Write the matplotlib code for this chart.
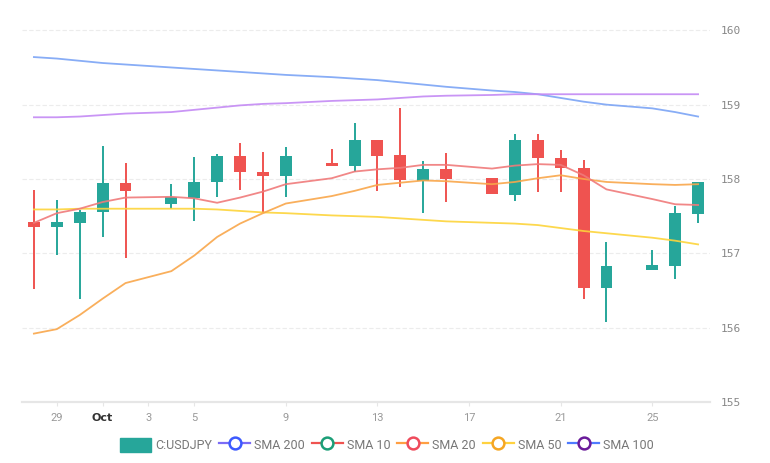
import matplotlib
matplotlib.use("Agg")
import matplotlib.pyplot as plt
import matplotlib.dates as mdates
from matplotlib.lines import Line2D
from matplotlib.patches import Patch
import pandas as pd
import numpy as np

# daily USDJPY candles (weekend gaps are left empty)
dates = ["2024-09-28", "2024-09-29", "2024-09-30", "2024-10-01", "2024-10-02",
         "2024-10-04", "2024-10-05", "2024-10-06", "2024-10-07", "2024-10-08",
         "2024-10-09", "2024-10-11", "2024-10-12", "2024-10-13", "2024-10-14",
         "2024-10-15", "2024-10-16", "2024-10-18", "2024-10-19", "2024-10-20",
         "2024-10-21", "2024-10-22", "2024-10-23", "2024-10-25", "2024-10-26",
         "2024-10-27"]
opens = [157.42, 157.35, 157.41, 157.55, 157.94, 157.67, 157.74, 157.96, 158.31, 158.09,
         158.04, 158.20, 158.17, 158.52, 158.32, 157.97, 158.13, 158.01, 157.78, 158.52,
         158.28, 158.15, 156.53, 156.77, 156.83, 157.53]
highs = [157.85, 157.72, 157.58, 158.45, 158.21, 157.93, 158.29, 158.33, 158.49, 158.36,
         158.43, 158.40, 158.75, 158.52, 158.95, 158.24, 158.35, 158.01, 158.60, 158.60,
         158.39, 158.25, 157.15, 157.04, 157.63, 157.96]
lows = [156.52, 156.98, 156.38, 157.22, 156.94, 157.59, 157.43, 157.76, 157.85, 157.54,
        157.76, 158.17, 158.09, 157.84, 157.89, 157.54, 157.69, 157.80, 157.70, 157.82,
        157.82, 156.38, 156.08, 156.77, 156.65, 157.41]
closes = [157.35, 157.42, 157.55, 157.94, 157.84, 157.76, 157.96, 158.31, 158.09, 158.04,
          158.31, 158.17, 158.52, 158.31, 157.98, 158.13, 158.00, 157.80, 158.52, 158.28,
          158.15, 156.53, 156.83, 156.84, 157.54, 157.96]

sma10 = [157.41, 157.54, 157.60, 157.69, 157.75, 157.76, 157.74, 157.68, 157.75, 157.83,
         157.93, 158.01, 158.10, 158.13, 158.15, 158.19, 158.19, 158.14, 158.18, 158.20,
         158.19, 158.05, 157.86, 157.73, 157.66, 157.65]
sma20 = [155.92, 155.98, 156.17, 156.39, 156.60, 156.76, 156.97, 157.22, 157.40, 157.54,
         157.67, 157.77, 157.84, 157.92, 157.95, 157.98, 157.97, 157.93, 157.96, 158.01,
         158.05, 158.00, 157.96, 157.93, 157.92, 157.93]
sma50 = [157.59, 157.59, 157.60, 157.60, 157.60, 157.60, 157.60, 157.59, 157.57, 157.55,
         157.54, 157.51, 157.50, 157.49, 157.47, 157.45, 157.43, 157.41, 157.40, 157.38,
         157.34, 157.30, 157.27, 157.21, 157.17, 157.12]
sma100 = [158.83, 158.83, 158.84, 158.86, 158.88, 158.90, 158.93, 158.96, 158.99, 159.01,
          159.02, 159.05, 159.06, 159.07, 159.09, 159.11, 159.12, 159.13, 159.14, 159.14,
          159.14, 159.14, 159.14, 159.14, 159.14, 159.14]
sma200 = [159.64, 159.62, 159.59, 159.56, 159.54, 159.50, 159.48, 159.46, 159.44, 159.42,
          159.40, 159.37, 159.35, 159.33, 159.30, 159.27, 159.24, 159.19, 159.17, 159.14,
          159.09, 159.04, 159.00, 158.95, 158.90, 158.84]

tick_dates = ["2024-09-29", "2024-10-01", "2024-10-03", "2024-10-05", "2024-10-09",
              "2024-10-13", "2024-10-17", "2024-10-21", "2024-10-25"]
tick_labels = ["29", "Oct", "3", "5", "9", "13", "17", "21", "25"]

UP = "#26a69a"
DOWN = "#ef5350"

x = mdates.date2num(pd.to_datetime(dates))
o = np.array(opens)
c = np.array(closes)

fig = plt.figure(figsize=(7.7, 4.63), dpi=100)
ax = fig.add_axes([22 / 770, 61 / 463, 688 / 770, 394 / 463])

colors = [UP if cc >= oo else DOWN for oo, cc in zip(o, c)]
ax.vlines(x, lows, highs, colors=colors, linewidth=1.4, zorder=2)
bottoms = np.minimum(o, c)
heights = np.maximum(np.abs(c - o), 0.04)
ax.bar(x, heights, bottom=bottoms, width=0.52, color=colors, edgecolor="none", zorder=2)

lw = 1.3
ax.plot(x, sma200, color="#7ba4f5", lw=lw, alpha=0.9, zorder=3)
ax.plot(x, sma100, color="#c48af4", lw=lw, alpha=0.9, zorder=3)
ax.plot(x, sma50, color="#fdd43a", lw=lw, alpha=0.9, zorder=3)
ax.plot(x, sma20, color="#f9a64a", lw=lw, alpha=0.9, zorder=3)
ax.plot(x, sma10, color="#f07a7a", lw=lw, alpha=0.9, zorder=3)

ax.set_xlim(x[0] - 0.52, x[0] + 29.52)
ax.set_ylim(155, 160.3)

ax.set_xticks(mdates.date2num(pd.to_datetime(tick_dates)))
ax.set_xticklabels(tick_labels, fontsize=8, color="#999999", family="Roboto")
for lbl in ax.get_xticklabels():
    if lbl.get_text() == "Oct":
        lbl.set_fontweight("bold")
        lbl.set_color("#333333")
        lbl.set_family("DejaVu Sans")
ax.tick_params(axis="x", length=3, color="#e6e6e6", pad=5)

ax.yaxis.tick_right()
ax.set_yticks([155, 156, 157, 158, 159, 160])
ax.set_yticklabels(["155", "156", "157", "158", "159", "160"],
                   fontsize=8, color="#888888", family="DejaVu Sans Mono")
ax.tick_params(axis="y", length=0, pad=8)
ax.grid(axis="y", color="#ececec", linestyle=(0, (4, 2)), linewidth=0.8)
ax.set_axisbelow(True)

for s in ["top", "left", "right"]:
    ax.spines[s].set_visible(False)
ax.spines["bottom"].set_color("#e6e6e6")
ax.spines["bottom"].set_linewidth(1.6)

handles = [
    Patch(facecolor=UP, edgecolor=UP),
    Line2D([], [], color="#7b6cf6", lw=1.6, marker="o", markersize=8.5,
           markerfacecolor="white", markeredgecolor="#3d5afe", markeredgewidth=1.8),
    Line2D([], [], color="#ef5350", lw=1.6, marker="o", markersize=8.5,
           markerfacecolor="white", markeredgecolor="#1b9e77", markeredgewidth=1.8),
    Line2D([], [], color="#ff9f43", lw=1.6, marker="o", markersize=8.5,
           markerfacecolor="white", markeredgecolor="#ef4b5c", markeredgewidth=1.8),
    Line2D([], [], color="#ffd23f", lw=1.6, marker="o", markersize=8.5,
           markerfacecolor="white", markeredgecolor="#f5a623", markeredgewidth=1.8),
    Line2D([], [], color="#4f7bff", lw=1.6, marker="o", markersize=8.5,
           markerfacecolor="white", markeredgecolor="#6a1b9a", markeredgewidth=1.8),
]
names = ["C:USDJPY", "SMA 200", "SMA 10", "SMA 20", "SMA 50", "SMA 100"]
leg = fig.legend(handles, names, loc="center", bbox_to_anchor=(387 / 770, 1 - 445 / 463),
                 ncol=6, frameon=False, handlelength=2.5, handleheight=1.4,
                 handletextpad=0.3, columnspacing=0.55, prop={"family": "Roboto", "size": 9})
for t in leg.get_texts():
    t.set_color("#777777")

fig.savefig("out.png", dpi=100, facecolor="white")
